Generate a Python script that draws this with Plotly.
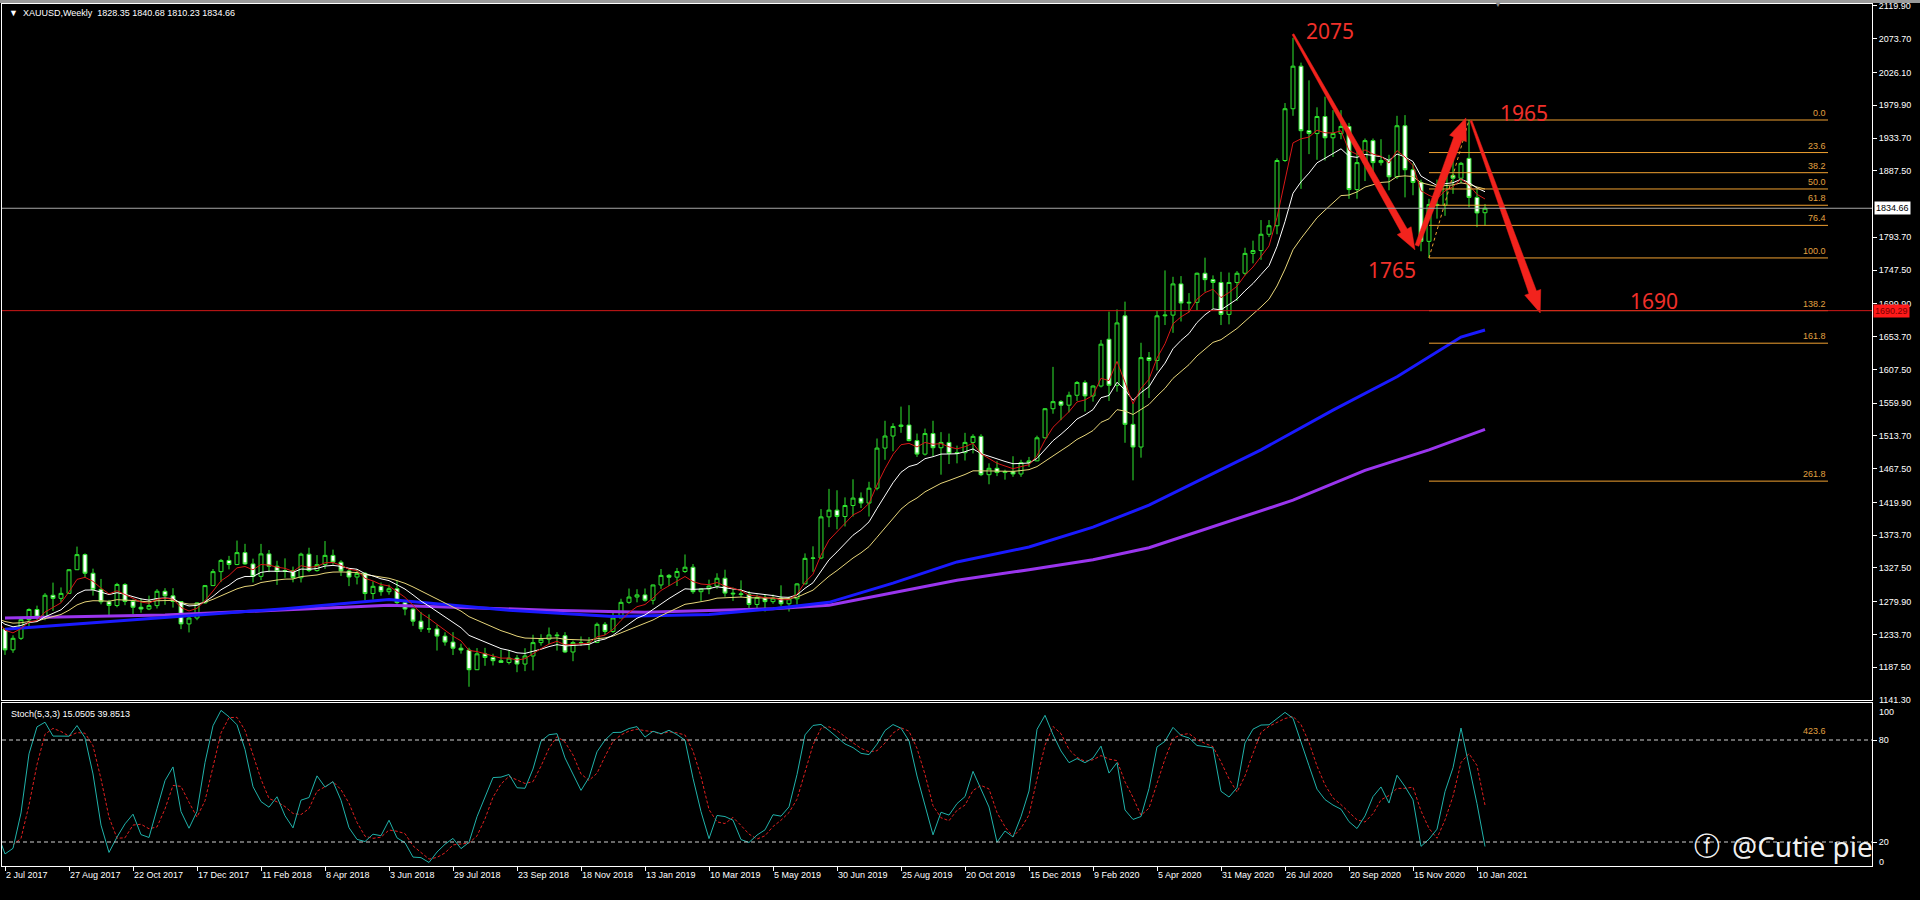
import math
import numpy as np
import pandas as pd
import plotly.graph_objects as go

# ------------------------------------------------------------------ data
# weekly XAUUSD candles (first 7 weeks lie left of the visible window)
week_start = "2017-05-14"
opens = [1228, 1254, 1267, 1279, 1266, 1254, 1256,
    1241.5, 1212.0, 1228.3, 1254.6, 1268.9, 1258.0, 1289.0, 1284.6, 1291.6, 1325.0,
    1346.3, 1320.0, 1297.3, 1279.8, 1274.5, 1304.2, 1280.3, 1272.1, 1269.6, 1274.4,
    1294.6, 1288.2, 1280.2, 1248.6, 1256.9, 1278.2, 1302.6,
    1322.3, 1338.1, 1332.3, 1349.1, 1333.2, 1315.6, 1347.3, 1330.0, 1322.5, 1323.7,
    1313.7, 1346.9, 1323.8, 1332.2, 1345.2, 1335.6, 1323.3, 1314.7, 1319.9, 1291.4,
    1301.6, 1294.0, 1298.2, 1278.6, 1269.5, 1252.5, 1241.6, 1241.5, 1231.4, 1223.0,
    1214.4, 1211.7, 1184.0, 1206.4, 1201.2, 1196.7, 1194.2, 1200.4, 1192.0, 1203.4,
    1222.2, 1227.0, 1233.0, 1232.0, 1209.0, 1222.3, 1222.0, 1222.5, 1248.0, 1238.0,
    1257.0, 1279.0,
    1286.5, 1289.5, 1282.0, 1303.5, 1317.0, 1314.5, 1322.5, 1328.5, 1294.0, 1298.0,
    1302.0, 1313.0, 1292.0, 1291.0, 1290.0, 1276.0, 1286.0, 1280.0, 1285.0, 1277.0,
    1284.0, 1305.0, 1341.0, 1341.5, 1399.5, 1409.0, 1400.0, 1415.5, 1426.0, 1419.0,
    1440.0, 1496.5, 1513.5, 1527.0, 1529.0, 1507.0, 1488.0, 1517.0, 1497.0, 1504.5,
    1489.0, 1490.0, 1504.5, 1513.0, 1459.0, 1468.0, 1462.0, 1463.5, 1460.0, 1476.0,
    1478.5, 1511.0,
    1552.0, 1562.0, 1557.0, 1571.0, 1589.0, 1570.0, 1584.0, 1650.0, 1585.0, 1683.0,
    1530.0, 1498.0, 1624.0, 1620.0, 1683.0, 1684.0, 1728.0, 1701.0, 1702.0, 1743.0,
    1734.0, 1730.0, 1685.0, 1730.0, 1743.0, 1771.0, 1775.0, 1798.0, 1810.0, 1902.0,
    1975.0, 2035.0, 1944.0, 1940.0, 1964.0, 1934.0, 1940.0, 1950.0, 1861.0, 1899.0,
    1930.0, 1899.0, 1902.0, 1879.0, 1951.0, 1889.0, 1871.0, 1788.0, 1840.0, 1839.0,
    1881.0, 1877.0,
    1905.0, 1850.0, 1828.35]
highs = [1261, 1270, 1283, 1296, 1275, 1260, 1260,
    1242.5, 1232.5, 1256.5, 1270.5, 1274.3, 1292.0, 1306.8, 1300.0, 1326.0, 1357.6,
    1348.0, 1326.5, 1312.0, 1282.5, 1306.5, 1306.0, 1283.0, 1284.3, 1288.5, 1297.6,
    1299.0, 1299.0, 1280.6, 1260.0, 1279.0, 1303.5, 1326.0,
    1340.2, 1344.5, 1366.1, 1361.5, 1340.6, 1361.4, 1352.8, 1337.6, 1341.0, 1329.4,
    1349.0, 1356.0, 1345.6, 1365.4, 1353.3, 1338.3, 1327.3, 1326.1, 1321.8, 1308.7,
    1306.9, 1303.9, 1309.3, 1280.5, 1271.0, 1265.5, 1262.0, 1247.5, 1236.8, 1237.0,
    1220.7, 1215.0, 1214.5, 1214.8, 1206.5, 1212.0, 1211.9, 1204.8, 1214.3, 1233.3,
    1234.0, 1243.5, 1237.0, 1237.0, 1225.0, 1230.9, 1230.0, 1250.5, 1251.2, 1267.0,
    1284.0, 1298.5,
    1297.5, 1298.5, 1304.0, 1326.0, 1319.0, 1327.5, 1346.5, 1333.0, 1299.0, 1311.0,
    1320.0, 1325.0, 1300.0, 1310.0, 1295.0, 1290.0, 1290.0, 1290.0, 1303.0, 1287.0,
    1306.0, 1348.0, 1358.0, 1410.5, 1439.0, 1437.0, 1427.0, 1452.5, 1434.0, 1449.0,
    1510.0, 1535.0, 1531.5, 1555.0, 1557.0, 1517.0, 1524.0, 1535.0, 1519.0, 1517.0,
    1500.0, 1518.0, 1516.0, 1516.0, 1475.0, 1478.0, 1466.0, 1485.0, 1480.0, 1484.0,
    1514.0, 1553.0,
    1611.0, 1564.0, 1576.0, 1591.0, 1592.0, 1585.0, 1649.0, 1689.0, 1692.0, 1703.0,
    1560.0, 1645.0, 1632.0, 1690.0, 1747.0, 1738.0, 1739.0, 1715.0, 1744.0, 1765.0,
    1740.0, 1745.0, 1744.0, 1746.0, 1779.0, 1789.0, 1818.0, 1818.0, 1905.0, 1983.0,
    2075.0, 2040.0, 2015.0, 1977.0, 1992.0, 1973.0, 1973.0, 1955.0, 1916.0, 1933.0,
    1933.0, 1932.0, 1910.0, 1965.0, 1966.0, 1898.0, 1875.0, 1848.0, 1875.0, 1896.0,
    1906.0, 1900.0,
    1959.1, 1863.0, 1840.68]
lows = [1226, 1250, 1259, 1265, 1252, 1242, 1236,
    1204.9, 1207.8, 1226.0, 1243.7, 1254.3, 1253.8, 1266.9, 1279.0, 1291.0, 1324.5,
    1314.0, 1288.5, 1276.2, 1260.8, 1272.0, 1275.0, 1262.6, 1264.4, 1268.0, 1270.4,
    1275.5, 1271.6, 1241.2, 1236.6, 1253.8, 1277.5, 1302.3,
    1307.5, 1325.5, 1331.4, 1331.9, 1307.1, 1310.3, 1321.4, 1303.6, 1313.6, 1307.2,
    1307.0, 1321.6, 1322.2, 1326.2, 1332.2, 1316.1, 1301.9, 1304.3, 1282.0, 1283.0,
    1288.3, 1289.8, 1276.6, 1260.7, 1245.8, 1237.2, 1236.0, 1211.0, 1217.9, 1204.7,
    1206.7, 1160.0, 1183.5, 1189.5, 1190.0, 1193.5, 1191.5, 1180.5, 1182.0, 1183.0,
    1218.0, 1220.0, 1211.0, 1207.5, 1196.0, 1217.5, 1212.0, 1221.5, 1233.0, 1236.0,
    1257.0, 1277.0,
    1279.0, 1280.0, 1276.0, 1298.0, 1302.0, 1302.0, 1320.5, 1291.0, 1281.0, 1290.5,
    1298.0, 1287.0, 1281.0, 1286.0, 1266.0, 1267.0, 1266.0, 1277.0, 1274.0, 1266.0,
    1276.0, 1305.0, 1322.0, 1340.0, 1385.0, 1382.0, 1386.0, 1400.0, 1412.0, 1400.0,
    1437.0, 1480.0, 1492.0, 1518.0, 1506.0, 1484.0, 1486.0, 1485.0, 1459.0, 1474.0,
    1475.0, 1479.0, 1489.0, 1457.0, 1445.5, 1457.0, 1452.0, 1456.0, 1456.0, 1470.0,
    1478.0, 1510.0,
    1545.0, 1536.0, 1547.0, 1563.0, 1548.0, 1562.0, 1582.0, 1563.0, 1576.0, 1504.0,
    1451.0, 1483.0, 1567.0, 1606.0, 1670.0, 1659.0, 1675.0, 1688.0, 1691.0, 1717.0,
    1693.0, 1670.0, 1671.0, 1704.0, 1740.0, 1757.0, 1762.0, 1794.0, 1798.0, 1900.0,
    1965.0, 1862.0, 1911.0, 1903.0, 1902.0, 1907.0, 1932.0, 1848.0, 1848.0, 1873.0,
    1882.0, 1895.0, 1860.0, 1876.0, 1850.0, 1853.0, 1774.0, 1764.6, 1820.0, 1824.0,
    1855.0, 1870.0,
    1836.0, 1808.0, 1810.23]
closes = [1254, 1267, 1279, 1266, 1254, 1256, 1241.5,
    1212.0, 1228.3, 1254.6, 1268.9, 1258.0, 1289.0, 1284.6, 1291.6, 1325.0, 1346.3,
    1320.0, 1297.3, 1279.8, 1274.5, 1304.2, 1280.3, 1272.1, 1269.6, 1274.4, 1294.6,
    1288.2, 1280.2, 1248.6, 1256.9, 1278.2, 1302.6, 1322.3,
    1338.1, 1332.3, 1349.1, 1333.2, 1315.6, 1347.3, 1330.0, 1322.5, 1323.7, 1313.7,
    1346.9, 1323.8, 1332.2, 1345.2, 1335.6, 1323.3, 1314.7, 1319.9, 1291.4, 1301.6,
    1294.0, 1298.2, 1278.6, 1269.5, 1252.5, 1241.6, 1241.5, 1231.4, 1223.0, 1214.4,
    1211.7, 1184.0, 1206.4, 1201.2, 1196.7, 1194.2, 1200.4, 1192.0, 1203.4, 1222.2,
    1227.0, 1233.0, 1232.0, 1209.0, 1222.3, 1222.0, 1222.5, 1248.0, 1238.0, 1257.0,
    1279.0, 1286.5,
    1289.5, 1282.0, 1303.5, 1317.0, 1314.5, 1322.5, 1328.5, 1294.0, 1298.0, 1302.0,
    1313.0, 1292.0, 1291.0, 1290.0, 1276.0, 1286.0, 1280.0, 1285.0, 1277.0, 1284.0,
    1305.0, 1341.0, 1341.5, 1399.5, 1409.0, 1400.0, 1415.5, 1426.0, 1419.0, 1440.0,
    1496.5, 1513.5, 1527.0, 1529.0, 1507.0, 1488.0, 1517.0, 1497.0, 1504.5, 1489.0,
    1490.0, 1504.5, 1513.0, 1459.0, 1468.0, 1462.0, 1463.5, 1460.0, 1476.0, 1478.5,
    1511.0, 1552.0,
    1562.0, 1557.0, 1571.0, 1589.0, 1570.0, 1584.0, 1643.0, 1585.0, 1673.0, 1530.0,
    1498.0, 1624.0, 1620.0, 1683.0, 1684.0, 1728.0, 1701.0, 1702.0, 1743.0, 1734.0,
    1730.0, 1685.0, 1730.0, 1743.0, 1771.0, 1775.0, 1798.0, 1810.0, 1902.0, 1975.0,
    2035.0, 1944.0, 1940.0, 1964.0, 1934.0, 1940.0, 1950.0, 1861.0, 1899.0, 1930.0,
    1899.0, 1902.0, 1879.0, 1951.0, 1889.0, 1871.0, 1788.0, 1840.0, 1839.0, 1881.0,
    1877.0, 1898.0,
    1850.0, 1828.0, 1834.66]

# long moving averages (blue / violet): (date, value)
ma_blue_dates = ["2017-07-02", "2017-09-24", "2017-12-17", "2018-03-04", "2018-06-03",
                 "2018-07-22", "2018-09-16", "2018-12-16", "2019-03-10", "2019-05-05",
                 "2019-06-23", "2019-08-18", "2019-10-13", "2019-12-15", "2020-02-09",
                 "2020-03-29", "2020-07-05", "2020-09-06", "2020-11-01", "2020-12-27",
                 "2021-01-17"]
ma_blue_vals = [1241, 1251, 1261, 1270, 1283, 1276, 1268, 1259, 1262, 1270,
                1279, 1306, 1336, 1357, 1385, 1416, 1494, 1550, 1597, 1653, 1663]
ma_violet_dates = ["2017-07-02", "2017-11-19", "2018-06-03", "2018-10-21", "2019-01-13",
                   "2019-05-05", "2019-06-23", "2019-08-18", "2019-10-13", "2019-12-15",
                   "2020-02-09", "2020-03-29", "2020-08-02", "2020-10-04", "2020-11-29",
                   "2021-01-17"]
ma_violet_vals = [1257, 1261, 1275, 1268, 1265, 1270, 1275, 1292, 1310, 1325,
                  1339, 1356, 1423, 1465, 1494, 1523]

x_tick_labels = ["2 Jul 2017", "27 Aug 2017", "22 Oct 2017", "17 Dec 2017", "11 Feb 2018",
                 "8 Apr 2018", "3 Jun 2018", "29 Jul 2018", "23 Sep 2018", "18 Nov 2018",
                 "13 Jan 2019", "10 Mar 2019", "5 May 2019", "30 Jun 2019", "25 Aug 2019",
                 "20 Oct 2019", "15 Dec 2019", "9 Feb 2020", "5 Apr 2020", "31 May 2020",
                 "26 Jul 2020", "20 Sep 2020", "15 Nov 2020", "10 Jan 2021"]
price_ticks = [2119.90, 2073.70, 2026.10, 1979.90, 1933.70, 1887.50, 1793.70,
               1747.50, 1699.90, 1653.70, 1607.50, 1559.90, 1513.70, 1467.50, 1419.90,
               1373.70, 1327.50, 1279.90, 1233.70, 1187.50]
last_price = 1834.66
level_red = 1690.29

fib_high = 1959.1
fib_low = 1764.6
fib_levels = [0.0, 23.6, 38.2, 50.0, 61.8, 76.4, 100.0, 138.2, 161.8, 261.8, 423.6]
fib_start = "2020-11-29"
fib_top_date = "2021-01-03"

# hand-drawn arrows: start/end in (date, price)
arrow_from = [("2020-08-02", 2080.0), ("2020-11-18 12:00", 1782.0), ("2021-01-04 18:00", 1958.0)]
arrow_to = [("2020-11-16 18:00", 1776.0), ("2020-12-31 05:00", 1962.0), ("2021-03-06 07:00", 1687.0)]
note_texts = ["2075", "1965", "1765", "1690"]
note_pos = [("2020-09-03", 2084.0), ("2021-02-20", 1969.0), ("2020-10-28", 1747.0), ("2021-06-14", 1704.0)]

# ------------------------------------------------------------------ geometry
FIG_W, FIG_H = 1920, 900
PL, PR = 2, 1872            # plot area left/right (px)
PT, PB = 4, 866             # plot area top/bottom (px)
MAIN_B, STO_T = 700, 703
PX_WEEK = 8.0
USD_PX = 1.41
IDX0_PX = 5
Y_MIN = 1141.3
STO_PX_PER_UNIT = 1.7
STO_ZERO_PX = 876

dates = pd.date_range(week_start, periods=len(closes), freq="7D")
df = pd.DataFrame({"o": opens, "h": highs, "l": lows, "c": closes}, index=dates)
first_vis = pd.Timestamp("2017-07-02")

week = pd.Timedelta(days=7)
x0 = first_vis - week * ((IDX0_PX - PL) / PX_WEEK)
x1 = x0 + week * ((PR - PL) / PX_WEEK)
y_max = Y_MIN + (MAIN_B - PT) * USD_PX
PH = PB - PT
main_dom = [(PB - MAIN_B) / PH, 1.0]
sto_dom = [0.0, (PB - STO_T) / PH]
sto_rng = [(STO_ZERO_PX - PB) / STO_PX_PER_UNIT, (STO_ZERO_PX - STO_T) / STO_PX_PER_UNIT]


def px_x(px):
    return (px - PL) / (PR - PL)


def px_y(py):
    return (PB - py) / PH


# indicators
ema5 = df["c"].ewm(span=5, adjust=False).mean()
ema10 = df["c"].ewm(span=10, adjust=False).mean()
ema20 = df["c"].ewm(span=20, adjust=False).mean()
hh = df["h"].rolling(5).max()
ll = df["l"].rolling(5).min()
stk = 100 * (df["c"] - ll).rolling(3).sum() / (hh - ll).rolling(3).sum()
std = stk.rolling(3).mean()

GREEN = "#2fe62f"
RED = "#f2231d"
FIBC = "#f0a030"
FONT = "Liberation Sans, Arial, sans-serif"
FS = 9

fig = go.Figure()

# long MAs
fig.add_trace(go.Scatter(x=pd.to_datetime(ma_violet_dates), y=ma_violet_vals, mode="lines",
                         line=dict(color="#9a35ee", width=3), hoverinfo="skip",
                         xaxis="x", yaxis="y"))
fig.add_trace(go.Scatter(x=pd.to_datetime(ma_blue_dates), y=ma_blue_vals, mode="lines",
                         line=dict(color="#1a1aff", width=3), hoverinfo="skip",
                         xaxis="x", yaxis="y"))
# short MAs
for s, col in [(ema20, "#e8d67a"), (ema10, "#ffffff"), (ema5, "#d81818")]:
    fig.add_trace(go.Scatter(x=dates, y=s.values, mode="lines", line=dict(color=col, width=1),
                             hoverinfo="skip", xaxis="x", yaxis="y"))

# fib level lines
fib_range = fib_high - fib_low
fib_end = first_vis + week * ((1828 - IDX0_PX) / PX_WEEK)
fx, fy = [], []
for lv in fib_levels:
    p = fib_high - lv / 100.0 * fib_range
    fx += [pd.Timestamp(fib_start), fib_end, None]
    fy += [p, p, None]
fig.add_trace(go.Scatter(x=fx, y=fy, mode="lines", line=dict(color=FIBC, width=1),
                         hoverinfo="skip", xaxis="x", yaxis="y"))
fig.add_trace(go.Scatter(x=[pd.Timestamp(fib_start), pd.Timestamp(fib_top_date)],
                         y=[fib_low, fib_high], mode="lines",
                         line=dict(color=FIBC, width=1, dash="3px,3px"),
                         hoverinfo="skip", xaxis="x", yaxis="y"))

# candles
fig.add_trace(go.Candlestick(x=dates, open=df["o"], high=df["h"], low=df["l"], close=df["c"],
                             increasing=dict(line=dict(color=GREEN, width=1), fillcolor="#000000"),
                             decreasing=dict(line=dict(color=GREEN, width=1), fillcolor="#ffffff"),
                             whiskerwidth=0, hoverinfo="skip", xaxis="x", yaxis="y"))


# arrows (tapered polygons)
def arrow_poly(a, b, w0, w1, hl, hw):
    t0, p0 = pd.Timestamp(a[0]), a[1]
    t1, p1 = pd.Timestamp(b[0]), b[1]
    du = (t1 - t0) / week * PX_WEEK
    dv = (p1 - p0) / USD_PX
    L = math.hypot(du, dv)
    ux, uy = du / L, dv / L
    nx, ny = -uy, ux
    base = L - hl
    pts = [(nx * w0 / 2, ny * w0 / 2),
           (ux * base + nx * w1 / 2, uy * base + ny * w1 / 2),
           (ux * base + nx * hw / 2, uy * base + ny * hw / 2),
           (du, dv),
           (ux * base - nx * hw / 2, uy * base - ny * hw / 2),
           (ux * base - nx * w1 / 2, uy * base - ny * w1 / 2),
           (-nx * w0 / 2, -ny * w0 / 2)]
    xs = [t0 + week * (u / PX_WEEK) for u, v in pts]
    ys = [p0 + v * USD_PX for u, v in pts]
    return xs + [xs[0]], ys + [ys[0]]


arrow_style = [(2, 7, 22, 16), (4, 9, 22, 18), (2, 8, 22, 17)]
for a, b, st in zip(arrow_from, arrow_to, arrow_style):
    xs, ys = arrow_poly(a, b, *st)
    fig.add_trace(go.Scatter(x=xs, y=ys, mode="lines", fill="toself", fillcolor=RED,
                             line=dict(color=RED, width=0.5), hoverinfo="skip",
                             xaxis="x", yaxis="y"))

# stochastic
fig.add_trace(go.Scatter(x=dates, y=std.values, mode="lines",
                         line=dict(color="#e02020", width=1, dash="3px,2px"),
                         hoverinfo="skip", xaxis="x2", yaxis="y2"))
fig.add_trace(go.Scatter(x=dates, y=stk.values, mode="lines",
                         line=dict(color="#20b2aa", width=1),
                         hoverinfo="skip", xaxis="x2", yaxis="y2"))

shapes = [
    dict(type="line", xref="x domain", yref="y", x0=0, x1=1, y0=last_price, y1=last_price,
         line=dict(color="#a8a8a8", width=1)),
    dict(type="line", xref="x domain", yref="y", x0=0, x1=1, y0=level_red, y1=level_red,
         line=dict(color="#d01818", width=1)),
    dict(type="line", xref="x2 domain", yref="y2", x0=0, x1=1, y0=80, y1=80,
         line=dict(color="#d0d0d0", width=1, dash="4px,3px")),
    dict(type="line", xref="x2 domain", yref="y2", x0=0, x1=1, y0=20, y1=20,
         line=dict(color="#d0d0d0", width=1, dash="4px,3px")),
    # top grey strip of the window
    dict(type="rect", xref="paper", yref="paper", x0=px_x(0), x1=px_x(FIG_W), y0=px_y(3), y1=px_y(0),
         fillcolor="#9a9a9a", line=dict(width=0), layer="above"),
]

ann = []
ann.append(dict(xref="paper", yref="paper", x=px_x(7), y=px_y(13), xanchor="left", yanchor="middle",
                text="\u25bc  XAUUSD,Weekly  1828.35 1840.68 1810.23 1834.66", showarrow=False,
                font=dict(color="white", size=FS, family=FONT)))
ann.append(dict(xref="paper", yref="paper", x=px_x(9), y=px_y(714), xanchor="left", yanchor="middle",
                text="Stoch(5,3,3) 15.0505 39.8513", showarrow=False,
                font=dict(color="white", size=FS, family=FONT)))
ann.append(dict(xref="paper", yref="y", x=1, xshift=2, y=last_price, xanchor="left", yanchor="middle",
                text="1834.66", showarrow=False, bgcolor="#ffffff", borderpad=1,
                font=dict(color="#000000", size=FS, family=FONT)))
ann.append(dict(xref="paper", yref="y", x=1, xshift=1, y=level_red, xanchor="left", yanchor="middle",
                text="1690.29", showarrow=False, bgcolor="#ff1a1a", borderpad=1,
                font=dict(color="#7a0000", size=FS, family=FONT)))
ann.append(dict(xref="paper", yref="paper", x=1, xshift=5, y=px_y(700), xanchor="left", yanchor="middle",
                text="1141.30", showarrow=False, font=dict(color="white", size=FS, family=FONT)))
ann.append(dict(xref="paper", yref="paper", x=1, xshift=5, y=px_y(712), xanchor="left", yanchor="middle",
                text="100", showarrow=False, font=dict(color="white", size=FS, family=FONT)))
ann.append(dict(xref="paper", yref="paper", x=1, xshift=5, y=px_y(862), xanchor="left", yanchor="middle",
                text="0", showarrow=False, font=dict(color="white", size=FS, family=FONT)))
ann.append(dict(xref="paper", yref="paper", x=px_x(1498), y=px_y(5), xanchor="center", yanchor="middle",
                text="\u25bc", showarrow=False, font=dict(color="#8a8a8a", size=8, family=FONT)))
# fib labels
for lv in fib_levels:
    p = fib_high - lv / 100.0 * fib_range
    if p >= Y_MIN:
        ann.append(dict(xref="x", yref="y", x=fib_end, y=p, xanchor="right", yanchor="bottom",
                        yshift=0, text=f"{lv:.1f}", showarrow=False,
                        font=dict(color="#e0a040", size=FS, family=FONT)))
    else:
        ann.append(dict(xref="x", yref="paper", x=fib_end, y=px_y(731), xanchor="right",
                        yanchor="middle", text=f"{lv:.1f}", showarrow=False,
                        font=dict(color="#e0a040", size=FS, family=FONT)))
# red notes
for t, (d, p) in zip(note_texts, note_pos):
    ann.append(dict(xref="x", yref="y", x=pd.Timestamp(d), y=p, text=t, showarrow=False,
                    xanchor="center", yanchor="middle",
                    font=dict(color="#f0302a", size=21, family="Noto Sans, DejaVu Sans, sans-serif")))
# watermark
ann.append(dict(xref="paper", yref="paper", x=px_x(1730), y=px_y(846), xanchor="left", yanchor="middle",
                text="@Cutie pie", showarrow=False,
                font=dict(color="rgba(255,255,255,0.95)", size=28, family="Noto Sans, sans-serif")))
ann.append(dict(xref="paper", yref="paper", x=px_x(1707), y=px_y(846), xanchor="center", yanchor="middle",
                text="\u24d5", showarrow=False,
                font=dict(color="rgba(255,255,255,0.95)", size=26, family="DejaVu Sans, sans-serif")))

tick_dates = [first_vis + week * (8 * k) for k in range(len(x_tick_labels))]

axis_common = dict(showgrid=False, zeroline=False, showline=True, linecolor="#ffffff",
                   linewidth=1, mirror=True)
fig.update_layout(
    width=FIG_W, height=FIG_H, autosize=False,
    margin=dict(l=PL, r=FIG_W - PR, t=PT, b=FIG_H - PB, pad=0),
    paper_bgcolor="#000000", plot_bgcolor="#000000",
    showlegend=False, hovermode=False,
    xaxis=dict(domain=[0, 1], anchor="y", range=[x0, x1], type="date",
               showticklabels=False, ticks="", rangeslider=dict(visible=False), **axis_common),
    xaxis2=dict(domain=[0, 1], anchor="y2", range=[x0, x1], type="date", matches="x",
                tickvals=tick_dates, ticktext=x_tick_labels, ticks="outside", ticklen=4,
                tickcolor="#ffffff", ticklabelposition="outside right", tickangle=0,
                tickfont=dict(color="white", size=FS, family=FONT),
                rangeslider=dict(visible=False), **axis_common),
    yaxis=dict(domain=main_dom, anchor="x", range=[Y_MIN, y_max], side="right",
               tickvals=price_ticks, ticktext=[f"{v:.2f}" for v in price_ticks],
               ticks="outside", ticklen=4, tickcolor="#ffffff",
               tickfont=dict(color="white", size=FS, family=FONT), **axis_common),
    yaxis2=dict(domain=sto_dom, anchor="x2", range=sto_rng, side="right",
                tickvals=[80, 20], ticktext=["80", "20"], ticks="outside", ticklen=4,
                tickcolor="#ffffff", tickfont=dict(color="white", size=FS, family=FONT),
                **axis_common),
    shapes=shapes, annotations=ann,
)

fig.write_html("out.html", config={"displayModeBar": False},
               post_script="document.body.style.margin='0px';document.body.style.background='#000';")
